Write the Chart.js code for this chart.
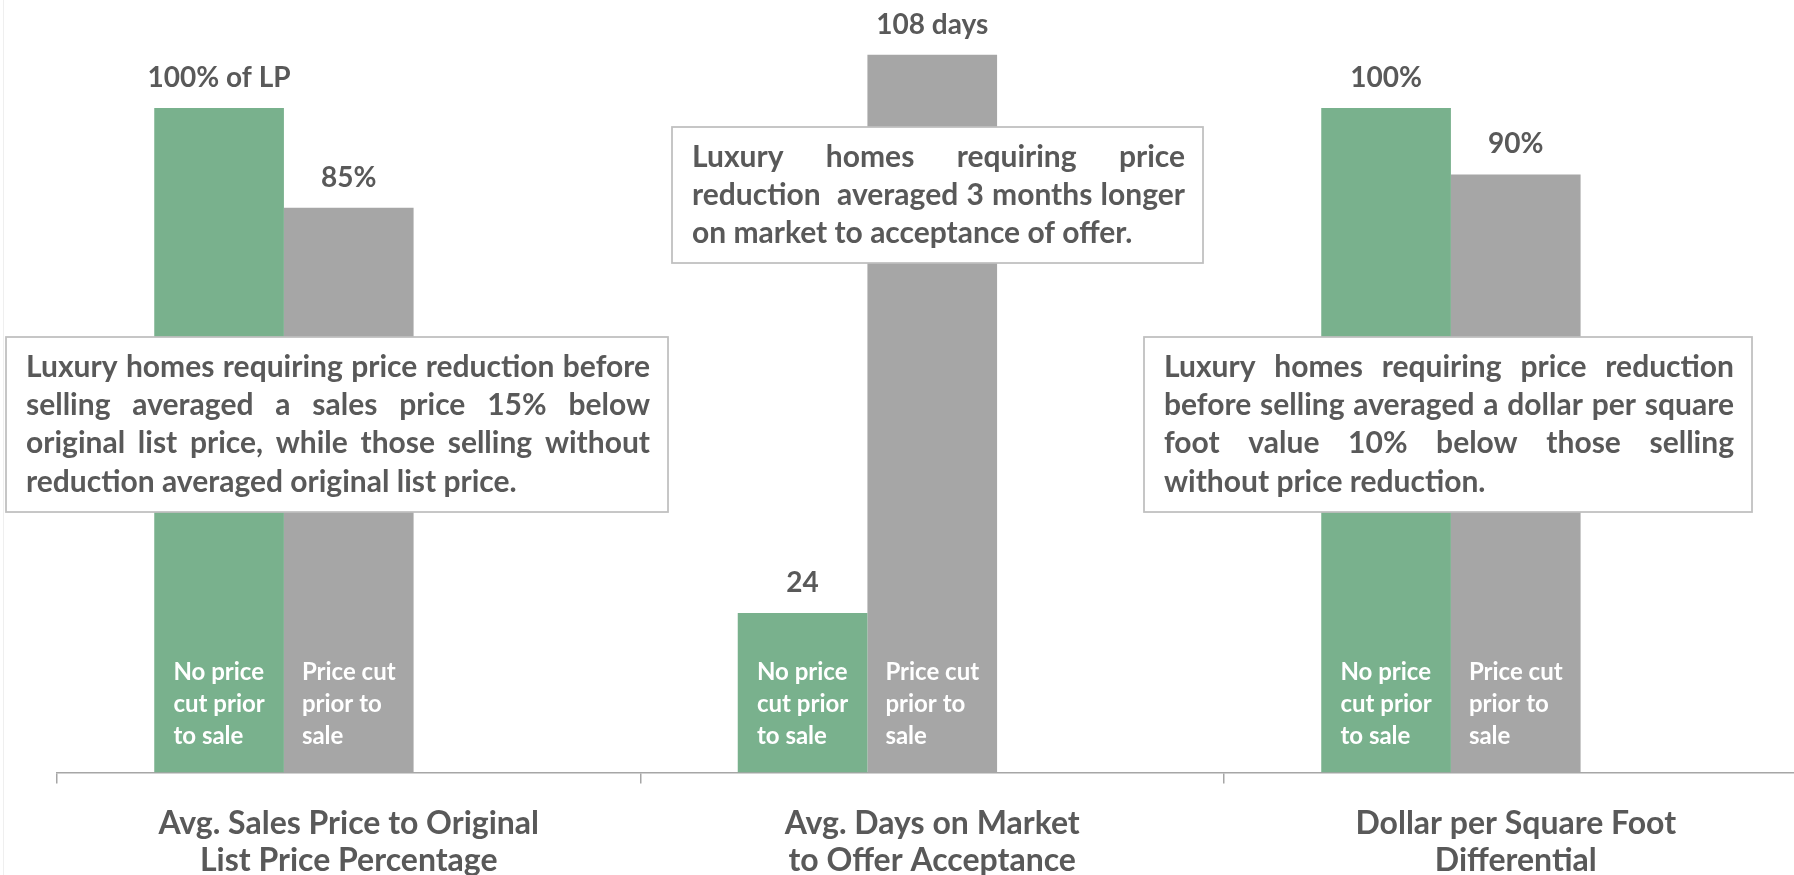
<!DOCTYPE html>
<html><head><meta charset="utf-8">
<script src="https://cdn.jsdelivr.net/npm/chart.js@4/dist/chart.umd.min.js"></script>
<style>
html,body{margin:0;padding:0;background:#fff;overflow:hidden;width:1794px;height:875px;}
#wrap{position:relative;width:1820px;height:875px;}
#edge{position:absolute;left:3px;top:0;width:1px;height:875px;background:#efefef;}
</style></head><body>
<div id="wrap"><canvas id="c" width="1820" height="875"></canvas><div id="edge"></div></div>
<script>
// ---- data ----
const categories = [
  ["Avg. Sales Price to Original", "List Price Percentage"],
  ["Avg. Days on Market", "to Offer Acceptance"],
  ["Dollar per Square Foot", "Differential"]
];
const seriesNames = ["No price cut prior to sale", "Price cut prior to sale"];
const seriesNameLines = [["No price", "cut prior", "to sale"], ["Price cut", "prior to", "sale"]];
const noCutValues = [100, 24, 100];
const cutValues = [85, 108, 90];
const spacerValues = [null, null, null];
const noCutLabels = ["100% of LP", "24", "100%"];
const cutLabels = ["85%", "108 days", "90%"];
const noteLines = [
  ["Luxury homes requiring price reduction before", "selling averaged a sales price 15% below", "original list price, while those selling without", "reduction averaged original list price."],
  ["Luxury homes requiring price", "reduction  averaged 3 months longer", "on market to acceptance of offer."],
  ["Luxury homes requiring price reduction", "before selling averaged a dollar per square", "foot value 10% below those selling", "without price reduction."]
];

// ---- layout / style ----
const TEXT = '#595959';
const GREEN = '#79B18D';
const GRAY = '#A6A6A6';
const FONT = 'Lato, "Open Sans", sans-serif';
const noteBoxes = [
  {x0: 6, y0: 337, x1: 668, y1: 512},
  {x0: 672, y0: 127, x1: 1203, y1: 263},
  {x0: 1144, y0: 337, x1: 1752, y1: 512}
];
const NOTE = {font: 'bold 30px ' + FONT, padL: 20, padR: 18, first: 40, lh: 38.2};

function drawLine(ctx, text, left, right, y, justify) {
  const avail = right - left;
  if (!justify) {
    const t = text.replace(/\s+/g, ' ');
    const w = ctx.measureText(t).width;
    if (w > avail) { ctx.save(); ctx.translate(left, y); ctx.scale(avail / w, 1); ctx.fillText(t, 0, 0); ctx.restore(); }
    else ctx.fillText(t, left, y);
    return;
  }
  const words = text.split(' ');
  const widths = words.map(w => ctx.measureText(w).width);
  const total = widths.reduce((a, b) => a + b, 0);
  const minGap = ctx.measureText(' ').width * 0.8;
  let sx = 1;
  if (total + minGap * (words.length - 1) > avail) sx = avail / (total + minGap * (words.length - 1));
  const gap = (avail - total * sx) / (words.length - 1);
  let x = left;
  words.forEach((w, i) => {
    if (w) { ctx.save(); ctx.translate(x, y); ctx.scale(sx, 1); ctx.fillText(w, 0, 0); ctx.restore(); }
    x += widths[i] * sx + gap;
  });
}

const overlay = {
  id: 'overlay',
  afterDatasetsDraw(chart) {
    const ctx = chart.ctx;
    ctx.save();
    noteBoxes.forEach((b, i) => {
      ctx.fillStyle = '#fff';
      ctx.fillRect(b.x0, b.y0, b.x1 - b.x0, b.y1 - b.y0);
      ctx.strokeStyle = '#bfbfbf';
      ctx.lineWidth = 1.75;
      ctx.strokeRect(b.x0, b.y0, b.x1 - b.x0, b.y1 - b.y0);
      ctx.font = NOTE.font;
      ctx.fillStyle = TEXT;
      ctx.textAlign = 'left';
      ctx.textBaseline = 'alphabetic';
      const lines = noteLines[i];
      lines.forEach((ln, j) => {
        drawLine(ctx, ln, b.x0 + NOTE.padL, b.x1 - NOTE.padR, b.y0 + NOTE.first + j * NOTE.lh, j < lines.length - 1);
      });
    });
    [noCutLabels, cutLabels].forEach((labs, d) => {
      chart.getDatasetMeta(d).data.forEach((bar, k) => {
        ctx.font = 'bold 28px ' + FONT;
        ctx.fillStyle = TEXT;
        ctx.textAlign = 'center';
        ctx.textBaseline = 'alphabetic';
        ctx.fillText(labs[k], bar.x, bar.y - 21);
      });
    });
    seriesNameLines.forEach((lines, d) => {
      chart.getDatasetMeta(d).data.forEach(bar => {
        ctx.font = 'bold 24px ' + FONT;
        ctx.fillStyle = '#ffffff';
        ctx.textAlign = 'left';
        ctx.textBaseline = 'alphabetic';
        const bw = Math.max(...lines.map(l => ctx.measureText(l).width));
        const x = bar.x - bw / 2;
        lines.forEach((l, j) => {
          ctx.fillText(l, x, bar.base - 28.5 - (lines.length - 1 - j) * 32);
        });
      });
    });
    ctx.restore();
  }
};

new Chart(document.getElementById('c'), {
  type: 'bar',
  data: {
    labels: categories,
    datasets: [
      {label: seriesNames[0], data: noCutValues, backgroundColor: GREEN},
      {label: seriesNames[1], data: cutValues, backgroundColor: GRAY},
      {label: '', data: spacerValues, backgroundColor: 'rgba(0,0,0,0)'}
    ]
  },
  options: {
    responsive: false,
    devicePixelRatio: 1,
    animation: false,
    categoryPercentage: 3 / 4.5,
    barPercentage: 1,
    layout: {padding: {left: 57, right: 12.5, top: 41.5, bottom: 0}},
    plugins: {legend: {display: false}, tooltip: {enabled: false}},
    scales: {
      x: {
        afterFit: s => { s.height = 102.5; },
        border: {display: true, color: '#a6a6a6', width: 1.5},
        grid: {display: true, drawOnChartArea: false, drawTicks: true, tickLength: 11, color: '#a6a6a6', lineWidth: 1.5, offset: true},
        ticks: {color: TEXT, padding: 21.5, font: {family: FONT, weight: 'bold', size: 32, lineHeight: '37px'}, maxRotation: 0, autoSkip: false}
      },
      y: {display: false, min: 0, max: 110}
    }
  },
  plugins: [overlay]
});
</script>
</body></html>
